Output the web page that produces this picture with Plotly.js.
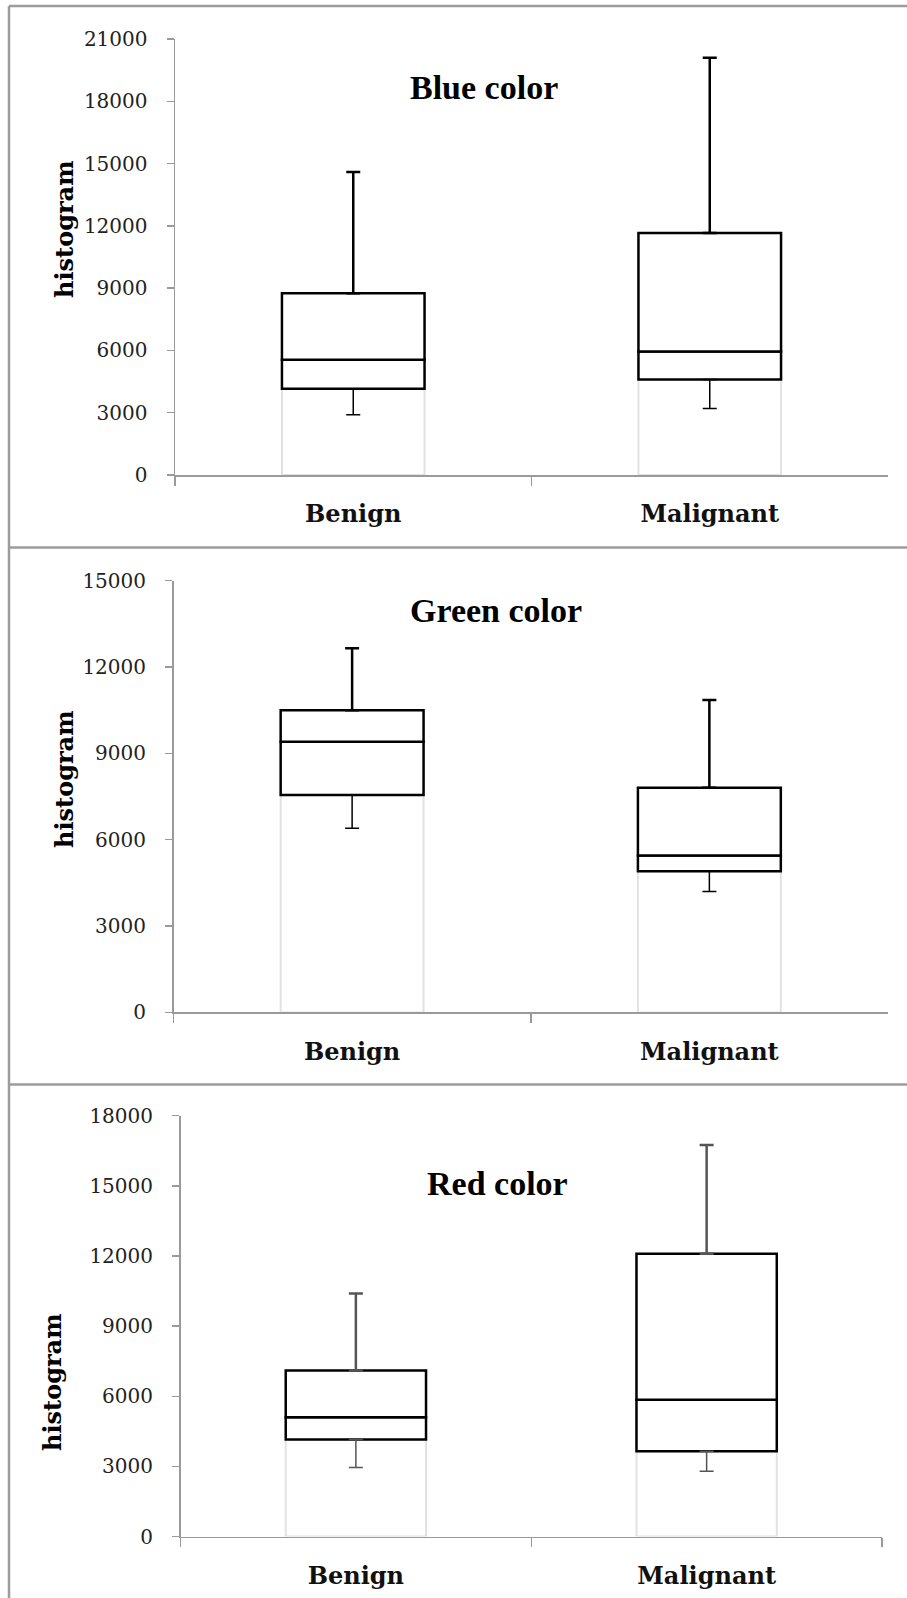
<!DOCTYPE html>
<html>
<head>
<meta charset="utf-8">
<script src="https://cdn.plot.ly/plotly-3.0.1.min.js"></script>
<style>html,body{margin:0;padding:0;background:#fff;}#chart{width:907px;height:1598px;}</style>
</head>
<body>
<div id="chart"></div>
<script>
// ---- data ----
const categories = ['Benign', 'Malignant'];
const panelTitles = ['Blue color', 'Green color', 'Red color'];
const yAxisTitle = 'histogram';
const yMax = [21000, 15000, 18000];

const blueLower  = [2900, 3200];
const blueQ1     = [4150, 4600];
const blueMedian = [5550, 5950];
const blueQ3     = [8750, 11650];
const blueUpper  = [14600, 20100];

const greenLower  = [6400, 4200];
const greenQ1     = [7550, 4900];
const greenMedian = [9400, 5450];
const greenQ3     = [10500, 7800];
const greenUpper  = [12650, 10850];

const redLower  = [2950, 2800];
const redQ1     = [4150, 3650];
const redMedian = [5100, 5850];
const redQ3     = [7100, 12100];
const redUpper  = [10400, 16750];

// ---- layout geometry (pixels) ----
const W = 907, H = 1598;
const panels = [
  {lower: blueLower,  q1: blueQ1,  med: blueMedian,  q3: blueQ3,  up: blueUpper,
   x0: 175, x1: 888, y0: 39, y1: 475, titleX: 484, titleY: 88, ytX: 64, ytY: 229, whisk: '#000'},
  {lower: greenLower, q1: greenQ1, med: greenMedian, q3: greenQ3, up: greenUpper,
   x0: 173.5, x1: 888, y0: 580.6, y1: 1012.4, titleX: 496, titleY: 610, ytX: 64, ytY: 779, whisk: '#000'},
  {lower: redLower,   q1: redQ1,   med: redMedian,   q3: redQ3,   up: redUpper,
   x0: 180.5, x1: 882, y0: 1115.7, y1: 1536.6, titleX: 497, titleY: 1183, ytX: 52, ytY: 1382, whisk: '#555'}
];

const traces = [];
const layout = {
  width: W, height: H,
  margin: {l: 0, r: 0, t: 0, b: 0},
  paper_bgcolor: '#fff', plot_bgcolor: '#fff',
  showlegend: false, barmode: 'overlay',
  annotations: [], shapes: []
};

panels.forEach((p, i) => {
  const xa = i === 0 ? 'x' : 'x' + (i + 1);
  const ya = i === 0 ? 'y' : 'y' + (i + 1);
  const xk = i === 0 ? 'xaxis' : 'xaxis' + (i + 1);
  const yk = i === 0 ? 'yaxis' : 'yaxis' + (i + 1);

  // light base bar 0 -> Q1
  traces.push({type: 'bar', x: categories, y: p.q1, width: 0.4, xaxis: xa, yaxis: ya,
    marker: {color: '#fff', line: {color: '#e2e2e2', width: 2}}, hoverinfo: 'skip'});
  // Q1 -> median
  traces.push({type: 'bar', x: categories, base: p.q1, y: p.med.map((m, k) => m - p.q1[k]),
    width: 0.4, xaxis: xa, yaxis: ya,
    marker: {color: '#fff', line: {color: '#000', width: 2.5}}, hoverinfo: 'skip'});
  // median -> Q3
  traces.push({type: 'bar', x: categories, base: p.med, y: p.q3.map((q, k) => q - p.med[k]),
    width: 0.4, xaxis: xa, yaxis: ya,
    marker: {color: '#fff', line: {color: '#000', width: 2.5}}, hoverinfo: 'skip'});
  // upper whisker
  traces.push({type: 'scatter', mode: 'markers', x: categories, y: p.q3, xaxis: xa, yaxis: ya,
    marker: {size: 1, color: 'rgba(0,0,0,0)'}, hoverinfo: 'skip',
    error_y: {type: 'data', symmetric: false, array: p.up.map((u, k) => u - p.q3[k]),
      arrayminus: p.q3.map(() => 0), color: p.whisk, thickness: 2.5, width: 7}});
  // lower whisker
  traces.push({type: 'scatter', mode: 'markers', x: categories, y: p.q1, xaxis: xa, yaxis: ya,
    marker: {size: 1, color: 'rgba(0,0,0,0)'}, hoverinfo: 'skip',
    error_y: {type: 'data', symmetric: false, array: p.q1.map(() => 0),
      arrayminus: p.q1.map((q, k) => q - p.lower[k]), color: p.whisk, thickness: 1.5, width: 7}});

  layout[xk] = {
    domain: [p.x0 / W, p.x1 / W], anchor: ya, type: 'category', range: [-0.5, 1.5],
    showline: true, linecolor: '#9a9a9a', linewidth: 1.5,
    ticks: 'outside', tickson: 'boundaries', ticklen: 9, tickcolor: '#9a9a9a', tickwidth: 1.5,
    tickfont: {family: 'DejaVu Serif', size: 24, color: '#111', weight: 'bold'},
    ticklabelstandoff: 17,
    showgrid: false, zeroline: false, fixedrange: true
  };
  layout[yk] = {
    domain: [1 - p.y1 / H, 1 - p.y0 / H], anchor: xa, range: [0, yMax[i]],
    tick0: 0, dtick: 3000, tickformat: 'd',
    showline: true, linecolor: '#9a9a9a', linewidth: 1.5,
    ticks: 'outside', ticklen: 7, tickcolor: '#9a9a9a', tickwidth: 1.5,
    tickfont: {family: 'DejaVu Serif', size: 20, color: '#222'},
    ticklabelstandoff: 15,
    showgrid: false, zeroline: false, fixedrange: true
  };

  layout.annotations.push({
    text: panelTitles[i], xref: 'paper', yref: 'paper',
    x: p.titleX / W, y: 1 - p.titleY / H, xanchor: 'center', yanchor: 'middle',
    showarrow: false, font: {family: 'Liberation Serif', size: 34, color: '#000', weight: 'bold'}
  });
  layout.annotations.push({
    text: yAxisTitle, xref: 'paper', yref: 'paper', textangle: -90,
    x: p.ytX / W, y: 1 - p.ytY / H, xanchor: 'center', yanchor: 'middle',
    showarrow: false, font: {family: 'DejaVu Serif', size: 24, color: '#000', weight: 'bold'}
  });
});

// panel frame lines
const frameColor = '#9c9c9c';
const px = v => v / W, py = v => 1 - v / H;
[[9, 6, 907, 6], [9, 6, 9, 1598], [9, 547.5, 907, 547.5], [9, 1084.5, 907, 1084.5]].forEach(s => {
  layout.shapes.push({type: 'line', xref: 'paper', yref: 'paper',
    x0: px(s[0]), y0: py(s[1]), x1: px(s[2]), y1: py(s[3]),
    line: {color: frameColor, width: 2.5}});
});

Plotly.newPlot('chart', traces, layout, {staticPlot: true, displayModeBar: false});
</script>
</body>
</html>
